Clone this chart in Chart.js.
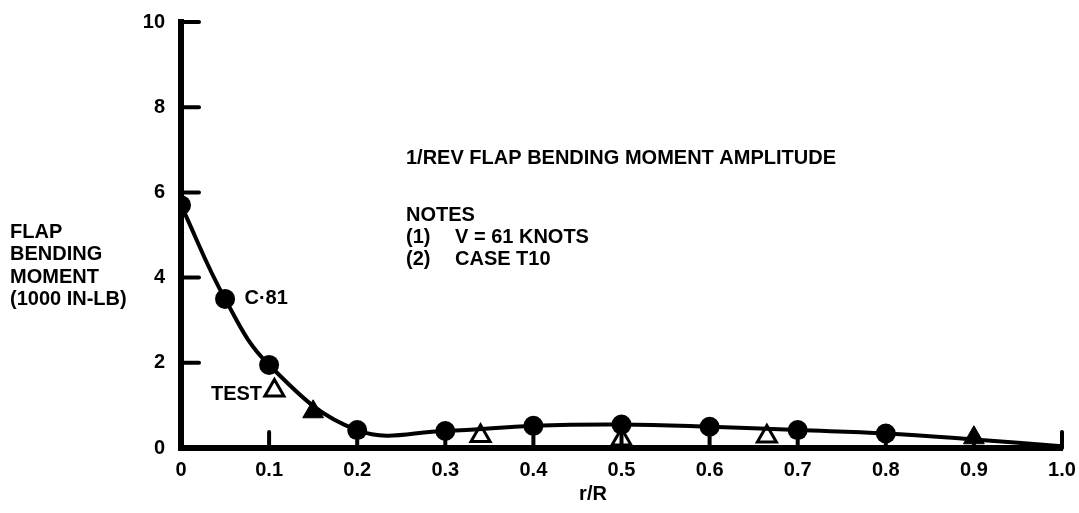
<!DOCTYPE html>
<html>
<head>
<meta charset="utf-8">
<script src="https://cdn.jsdelivr.net/npm/chart.js@4.4.0/dist/chart.umd.min.js"></script>
<style>
  html, body { margin: 0; padding: 0; background: #fff; }
  #wrap { width: 1079px; height: 513px; position: relative; }
</style>
</head>
<body>
<div id="wrap"><canvas id="chart"></canvas></div>
<script>
// r/R stations and C-81 predicted moment (1000 in-lb)
const c81X = [0, 0.05, 0.1, 0.2, 0.3, 0.4, 0.5, 0.6, 0.7, 0.8, 0.9, 1.0];
const c81Y = [5.7, 3.5, 1.95, 0.42, 0.4, 0.52, 0.55, 0.5, 0.42, 0.34, 0.2, 0.04];
const c81Radius = [10, 10, 10, 10, 10, 10, 10, 10, 10, 10, 0, 0];

// test data
const testOpenX = [0.34, 0.5, 0.665];
const testOpenY = [0.28, 0.2, 0.27];
const testFilledX = [0.15, 0.9];
const testFilledY = [0.85, 0.24];

// legend-style marker next to "TEST"
const testKeyX = [0.106];
const testKeyY = [1.35];

const xTicks = [0, 0.1, 0.2, 0.3, 0.4, 0.5, 0.6, 0.7, 0.8, 0.9, 1.0];
const yTicks = [0, 2, 4, 6, 8, 10];

const FONT = '"Liberation Sans", Arial, sans-serif';
const toPoints = (xs, ys) => xs.map((x, i) => ({ x: x, y: ys[i] }));

const annotations = {
    id: 'annotations',
    afterDraw(chart) {
        const { ctx, scales: { x, y } } = chart;
        ctx.save();
        ctx.fillStyle = '#000';
        ctx.strokeStyle = '#000';

        // inward tick marks
        ctx.lineWidth = 4;
        ctx.lineCap = 'round';
        yTicks.forEach(v => {
            const py = y.getPixelForValue(v);
            if (v === 0) return;
            ctx.beginPath();
            ctx.moveTo(x.left, py);
            ctx.lineTo(x.left + 18, py);
            ctx.stroke();
        });
        xTicks.forEach(v => {
            const px = x.getPixelForValue(v);
            if (v === 0) return;
            ctx.beginPath();
            ctx.moveTo(px, y.bottom);
            ctx.lineTo(px, y.bottom - 16);
            ctx.stroke();
        });

        // y axis title
        ctx.font = 'bold 20px ' + FONT;
        ctx.textAlign = 'left';
        ctx.textBaseline = 'middle';
        ['FLAP', 'BENDING', 'MOMENT', '(1000 IN-LB)'].forEach((t, i) => {
            ctx.fillText(t, 10, 232 + i * 22.5);
        });

        // x axis title
        ctx.textAlign = 'center';
        ctx.fillText('r/R', 593, 494);

        // title and notes
        ctx.textAlign = 'left';
        ctx.fillText('1/REV FLAP BENDING MOMENT AMPLITUDE', 406, 158);
        ctx.fillText('NOTES', 406, 215);
        ctx.fillText('(1)', 406, 237);
        ctx.fillText('V = 61 KNOTS', 455, 237);
        ctx.fillText('(2)', 406, 259);
        ctx.fillText('CASE T10', 455, 259);

        // curve labels
        ctx.fillText('C\u00B781', x.getPixelForValue(0.072), y.getPixelForValue(3.5));
        ctx.textAlign = 'right';
        ctx.fillText('TEST', x.getPixelForValue(0.092), y.getPixelForValue(1.25));
        ctx.restore();
    }
};

new Chart(document.getElementById('chart'), {
    type: 'scatter',
    data: {
        datasets: [
            {
                label: 'C-81',
                data: toPoints(c81X, c81Y),
                showLine: true,
                tension: 0.4,
                borderColor: '#000',
                borderWidth: 4,
                backgroundColor: '#000',
                pointRadius: c81Radius,
                pointBorderWidth: 0,
                pointBackgroundColor: '#000'
            },
            {
                label: 'TEST',
                data: toPoints(testOpenX, testOpenY),
                pointStyle: 'triangle',
                pointRadius: 11,
                pointBorderWidth: 3,
                pointBorderColor: '#000',
                pointBackgroundColor: '#fff'
            },
            {
                label: 'TEST filled',
                data: toPoints(testFilledX, testFilledY),
                pointStyle: 'triangle',
                pointRadius: 12,
                pointBorderWidth: 1,
                pointBorderColor: '#000',
                pointBackgroundColor: '#000'
            },
            {
                label: 'TEST key',
                data: toPoints(testKeyX, testKeyY),
                pointStyle: 'triangle',
                pointRadius: 11,
                pointBorderWidth: 3,
                pointBorderColor: '#000',
                pointBackgroundColor: '#fff'
            }
        ]
    },
    options: {
        responsive: true,
        maintainAspectRatio: false,
        animation: false,
        layout: { padding: { left: 0, right: 17, top: 22, bottom: 0 } },
        plugins: {
            legend: { display: false },
            tooltip: { enabled: false }
        },
        scales: {
            x: {
                type: 'linear',
                min: 0,
                max: 1,
                afterFit: s => { s.height = 65; },
                afterBuildTicks: s => { s.ticks = xTicks.map(v => ({ value: v })); },
                border: { display: true, color: '#000', width: 6 },
                grid: { display: false },
                ticks: {
                    color: '#000',
                    padding: 2,
                    font: { family: FONT, size: 20, weight: 'bold' },
                    callback: v => (v === 0 ? '0' : v.toFixed(1))
                }
            },
            y: {
                type: 'linear',
                min: 0,
                max: 10,
                afterFit: s => { s.width = 181; },
                afterBuildTicks: s => { s.ticks = yTicks.map(v => ({ value: v })); },
                border: { display: true, color: '#000', width: 6 },
                grid: { display: false },
                ticks: {
                    color: '#000',
                    padding: 8,
                    font: { family: FONT, size: 20, weight: 'bold' }
                }
            }
        }
    },
    plugins: [annotations]
});
</script>
</body>
</html>
